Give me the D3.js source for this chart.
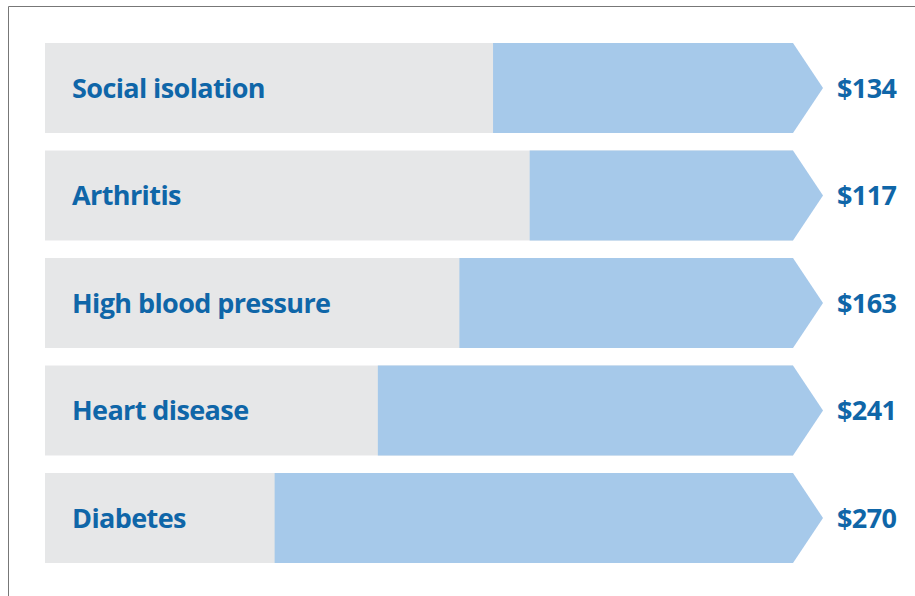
<!DOCTYPE html>
<html>
<head>
<meta charset="utf-8">
<script src="https://cdn.jsdelivr.net/npm/d3@7"></script>
<style>
  html, body { margin: 0; padding: 0; background: #fff; }
</style>
</head>
<body>
<div class="canvas"></div>
<script>
// chart data
const categories = ['Social isolation', 'Arthritis', 'High blood pressure', 'Heart disease', 'Diabetes'];
const costs = [134, 117, 163, 241, 270];
// blue part of each bar, percent of bar length
const blueShare = [40.1, 35.2, 44.6, 55.5, 69.3];

const dims = {width: 915, height: 596};

const svg = d3.select('.canvas')
    .append('svg')
    .attr('width', dims.width)
    .attr('height', dims.height);

// frame line on the top and left
svg.append('path')
    .attr('d', `M8.5,${dims.height} L8.5,6.5 L${dims.width},6.5`)
    .attr('fill', 'none')
    .attr('stroke', '#777')
    .attr('stroke-width', 1);

const x = d3.scaleLinear().domain([0, 100]).range([45, 793]);
const y = d3.scaleBand().domain(categories).range([43, 563]).paddingInner(0.163);

const tip = 30; // arrow depth

const data = categories.map((c, i) => ({name: c, cost: costs[i], share: blueShare[i]}));

const rows = svg.selectAll('g.row')
    .data(data)
    .enter().append('g')
    .attr('class', 'row')
    .attr('transform', d => `translate(0, ${y(d.name)})`);

const h = y.bandwidth();

// grey background bar
rows.append('rect')
    .attr('x', x(0))
    .attr('y', 0)
    .attr('width', x(100) - x(0))
    .attr('height', h)
    .attr('fill', '#e6e7e8');

// blue arrow
rows.append('path')
    .attr('d', d => {
        const x0 = x(100 - d.share), x1 = x(100);
        return `M${x0},0 L${x1},0 L${x1 + tip},${h / 2} L${x1},${h} L${x0},${h} Z`;
    })
    .attr('fill', '#a6c9ea');

// label style shared by both text columns
const labelStyle = sel => sel
    .attr('y', h / 2)
    .attr('dy', '0.37em')
    .attr('fill', '#0f66a8')
    .style('font-family', '"Open Sans", sans-serif')
    .style('font-weight', 700)
    .style('font-size', '27px')
    .style('letter-spacing', '-0.6px');

// category labels
rows.append('text')
    .attr('x', 72)
    .call(labelStyle)
    .text(d => d.name);

// cost labels
rows.append('text')
    .attr('x', 837)
    .call(labelStyle)
    .text(d => `$${d.cost}`);
</script>
</body>
</html>
